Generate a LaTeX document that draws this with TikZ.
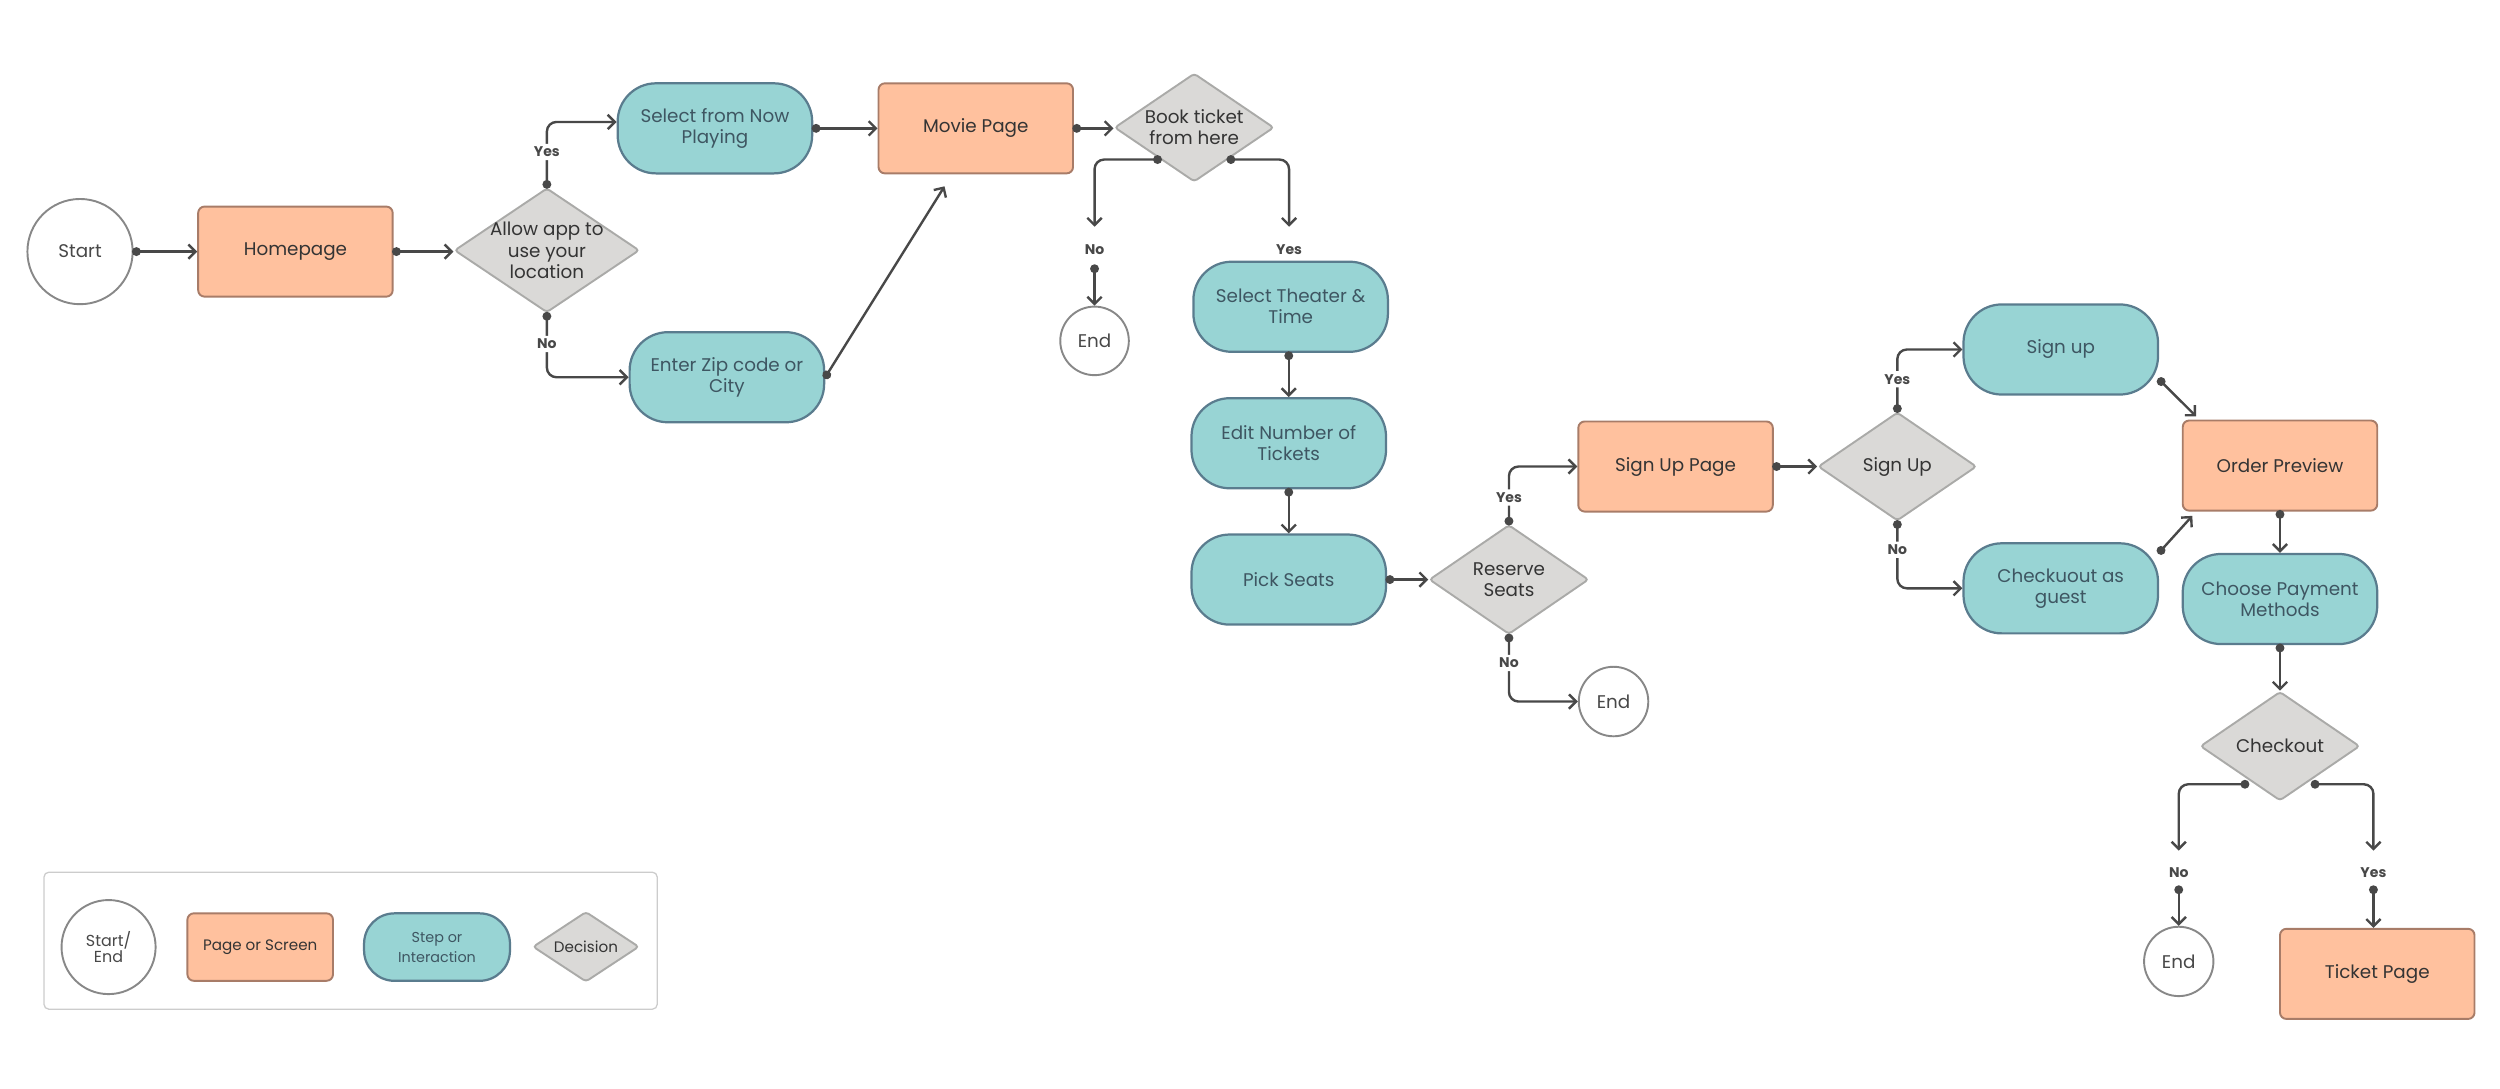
\documentclass[tikz,border=0pt]{standalone}
\usepackage{fontspec}
\setmainfont{Poppins}
\usetikzlibrary{shapes.geometric,arrows.meta,calc}
\definecolor{pagefill}{RGB}{255,193,158}
\definecolor{pagedraw}{RGB}{168,124,104}
\definecolor{stepfill}{RGB}{152,212,212}
\definecolor{stepdraw}{RGB}{90,124,142}
\definecolor{decfill}{RGB}{218,217,215}
\definecolor{decdraw}{RGB}{170,170,168}
\definecolor{termdraw}{RGB}{136,136,136}
\definecolor{linec}{RGB}{72,72,72}
\definecolor{txt}{RGB}{52,52,52}
\definecolor{steptxt}{RGB}{62,86,98}
\definecolor{legdraw}{RGB}{204,204,204}
\begin{document}
\begin{tikzpicture}[x=1pt,y=-1pt,
  base/.style={font=\fontsize{11.5}{13.2}\selectfont, align=center, text=txt},
  page/.style={base, rectangle, draw=pagedraw, fill=pagefill, line width=1.2pt, rounded corners=4pt, inner sep=2pt, minimum width=122pt, minimum height=56.5pt},
  stepbox/.style={base, rectangle, draw=stepdraw, fill=stepfill, line width=1.4pt, rounded corners=24pt, inner sep=2pt, minimum width=122pt, minimum height=56.5pt, text=steptxt},
  decision/.style={base, diamond, aspect=1.45, draw=decdraw, fill=decfill, line width=1.2pt, rounded corners=2pt, inner sep=-3pt},
  term/.style={base, circle, draw=termdraw, fill=white, line width=1.2pt, inner sep=0pt, text=txt!90},
  conn/.style={draw=linec, line width=1.5pt, rounded corners=6pt, shorten <=-1pt, {Circle[length=5.5pt]}-{Straight Barb[length=4.5pt,width=9pt]}},
  lbl/.style={font=\fontsize{8.8}{10}\selectfont\bfseries, text=linec, fill=white, inner xsep=1pt, inner ysep=2pt},
]
\useasboundingbox (0,0) rectangle (1568,682.4);

% ---- main flow nodes
\node[term, minimum size=66pt] (start) at (50.2,157.8) {Start};
\node[page] (home) at (185.3,157.8) {Homepage};
\node[decision, minimum width=116pt, minimum height=78pt] (allow) at (343,157) {Allow app to\\use your\\location};
\node[stepbox] (select) at (448.4,80.5) {Select from Now\\Playing};
\node[stepbox] (zip) at (455.9,236.6) {Enter Zip code or\\City};
\node[page] (movie) at (612,80.5) {Movie Page};
\node[decision, minimum width=100pt, minimum height=68pt] (book) at (749,80) {Book ticket\\from here};
\node[term, minimum size=43pt] (end1) at (686.5,213.8) {End};
\node[stepbox] (theater) at (809.5,192.4) {Select Theater \&\\Time};
\node[stepbox] (edit) at (808.3,278) {Edit Number of\\Tickets};
\node[stepbox] (pick) at (808.3,363.5) {Pick Seats};
\node[decision, minimum width=100pt, minimum height=68.6pt] (reserve) at (946.4,363.5) {Reserve\\Seats};
\node[term, minimum size=43.6pt] (end2) at (1012,440) {End};
\node[page] (signpage) at (1050.9,292.6) {Sign Up Page};
\node[decision, minimum width=99.4pt, minimum height=68pt] (signdec) at (1190,292.6) {Sign Up};
\node[stepbox] (signup) at (1292.5,219.2) {Sign up};
\node[stepbox] (guest) at (1292.5,369) {Checkuout as\\guest};
\node[page] (order) at (1430,292) {Order Preview};
\node[stepbox] (payment) at (1430,375.7) {Choose Payment\\Methods};
\node[decision, minimum width=100pt, minimum height=68.4pt] (checkout) at (1430,468) {Checkout};
\node[term, minimum size=43.5pt] (end3) at (1366.5,603) {End};
\node[page] (ticket) at (1491,610.8) {Ticket Page};

% ---- branch labels that sit between two arrows
\node[lbl] (bookno) at (686.5,156.8) {No};
\node[lbl] (bookyes) at (808.5,156.8) {Yes};
\node[lbl] (chkno) at (1366.5,547) {No};
\node[lbl] (chkyes) at (1488.6,547) {Yes};

% ---- connectors
\draw[conn] (start.east) -- (home.west);
\draw[conn] (home.east) -- (home.east -| allow.west);
\draw[conn] (allow.north) |- node[lbl, pos=0.27] {Yes} ([yshift=4pt]select.west);
\draw[conn] (allow.south) |- node[lbl, pos=0.24] {No} (zip.west);
\draw[conn] (select.east) -- (movie.west);
\draw[conn] (zip.east) -- ([xshift=42pt,yshift=-7.5pt]movie.south west);
\draw[conn] (movie.east) -- (movie.east -| book.west);

\draw[conn] ($(book.south)!0.42!(book.west)$) -| ([yshift=14.6pt]bookno.center);
\draw[conn] ([yshift=-10pt]bookno.center) -- (end1.north);
\draw[conn] ($(book.south)!0.42!(book.east)$) -| ([yshift=14.6pt]bookyes.center);

\draw[conn] (theater.south -| edit.north) -- (edit.north);
\draw[conn] (edit.south) -- (pick.north);
\draw[conn] (pick.east) -- (reserve.west);
\draw[conn] (reserve.north) |- node[lbl, pos=0.23] {Yes} (signpage.west);
\draw[conn] (reserve.south) |- node[lbl, pos=0.21] {No} (end2.west);
\draw[conn] (signpage.east) -- (signdec.west);
\draw[conn] (signdec.north) |- node[lbl, pos=0.26] {Yes} (signup.west);
\draw[conn] (signdec.south) |- node[lbl, pos=0.21] {No} (guest.west);
\draw[conn] (signup.-17) -- ([xshift=9pt,yshift=2pt]order.north west);
\draw[conn] (guest.20) -- ([xshift=6.6pt,yshift=-2.7pt]order.south west);
\draw[conn] (order.south) -- (payment.north);
\draw[conn] (payment.south) -- (checkout.north);

\draw[conn] ([yshift=-3pt]$(checkout.south)!0.4!(checkout.west)$) -| ([yshift=13.5pt]chkno.center);
\draw[conn] ([yshift=-9.3pt]chkno.center) -- (end3.north);
\draw[conn] ([yshift=-3pt]$(checkout.south)!0.4!(checkout.east)$) -| ([yshift=13.5pt]chkyes.center);
\draw[conn] ([yshift=-9.3pt]chkyes.center) -- (chkyes.center |- ticket.north);

% ---- legend
\node[draw=legdraw, line width=0.8pt, rounded corners=3pt, fill=white, minimum width=384.6pt, minimum height=85.9pt] (legend) at (219.9,590) {};
\node[term, minimum size=59pt, font=\fontsize{10}{10}\selectfont] (lgterm) at (68.1,594) {Start/\\End};
\node[page, minimum width=91.3pt, minimum height=42.3pt, font=\fontsize{9.5}{11}\selectfont] (lgpage) at (163.2,594) {Page or Screen};
\node[stepbox, minimum width=91.5pt, minimum height=42.3pt, rounded corners=19pt, font=\fontsize{9}{12.5}\selectfont] (lgstep) at (274.1,594) {Step or\\Interaction};
\node[decision, minimum width=66.6pt, minimum height=44pt, font=\fontsize{9.5}{11}\selectfont] (lgdec) at (367.5,593.8) {Decision};
\end{tikzpicture}
\end{document}
